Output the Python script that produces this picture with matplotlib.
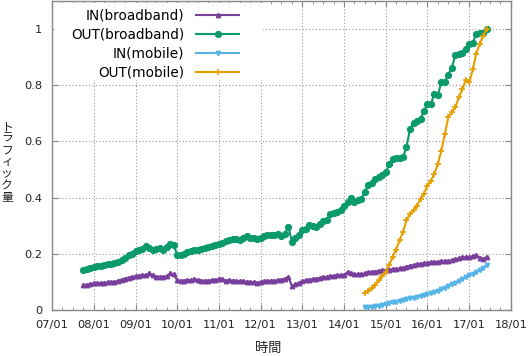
import numpy as np
import pandas as pd
import matplotlib
matplotlib.use('Agg')
import matplotlib.pyplot as plt
import matplotlib.dates as mdates
from matplotlib.patches import Rectangle
from matplotlib.ticker import FormatStrFormatter, MultipleLocator

plt.rcParams['font.family'] = ['DejaVu Sans', 'Noto Sans CJK JP']
JP = ['Noto Sans CJK JP', 'DejaVu Sans']

# 月次データ (最大値を1として正規化)
bb_start = '2007-10-01'
mb_start = '2014-07-01'

in_broadband = [
    0.089, 0.090, 0.092,
    0.095, 0.095, 0.096, 0.097, 0.098, 0.099, 0.100, 0.104, 0.108, 0.112, 0.115, 0.118,
    0.120, 0.122, 0.124, 0.125, 0.130, 0.124, 0.118, 0.119, 0.118, 0.120, 0.130, 0.127,
    0.106, 0.104, 0.105, 0.106, 0.107, 0.109, 0.107, 0.105, 0.104, 0.105, 0.106, 0.108,
    0.110, 0.112, 0.104, 0.106, 0.105, 0.104, 0.103, 0.102, 0.101, 0.100, 0.098, 0.097,
    0.100, 0.102, 0.104, 0.104, 0.105, 0.106, 0.108, 0.112, 0.118, 0.085, 0.092, 0.097,
    0.103, 0.106, 0.108, 0.110, 0.112, 0.114, 0.116, 0.118, 0.120, 0.122, 0.123, 0.124,
    0.124, 0.136, 0.130, 0.127, 0.127, 0.128, 0.130, 0.134, 0.136, 0.137, 0.140, 0.141,
    0.142, 0.144, 0.145, 0.146, 0.148, 0.150, 0.154, 0.158, 0.160, 0.162, 0.165, 0.166,
    0.168, 0.171, 0.171, 0.172, 0.173, 0.174, 0.175, 0.177, 0.180, 0.184, 0.187, 0.188,
    0.189, 0.192, 0.195, 0.186, 0.180, 0.189,
]

out_broadband = [
    0.142, 0.146, 0.150,
    0.154, 0.155, 0.158, 0.160, 0.162, 0.165, 0.168, 0.171, 0.177, 0.184, 0.195, 0.200,
    0.210, 0.212, 0.216, 0.228, 0.220, 0.213, 0.218, 0.221, 0.213, 0.225, 0.234, 0.232,
    0.195, 0.197, 0.200, 0.207, 0.210, 0.212, 0.215, 0.218, 0.222, 0.224, 0.228, 0.232,
    0.236, 0.240, 0.244, 0.250, 0.254, 0.252, 0.250, 0.255, 0.262, 0.258, 0.256, 0.254,
    0.256, 0.262, 0.266, 0.266, 0.268, 0.270, 0.264, 0.272, 0.296, 0.242, 0.255, 0.266,
    0.285, 0.290, 0.303, 0.298, 0.296, 0.305, 0.316, 0.322, 0.343, 0.346, 0.350, 0.355,
    0.372, 0.385, 0.400, 0.385, 0.390, 0.396, 0.420, 0.445, 0.452, 0.466, 0.475, 0.480,
    0.490, 0.520, 0.537, 0.540, 0.542, 0.544, 0.580, 0.645, 0.665, 0.672, 0.680, 0.709,
    0.733, 0.735, 0.770, 0.766, 0.810, 0.812, 0.837, 0.863, 0.907, 0.910, 0.915, 0.928,
    0.946, 0.952, 0.983, 0.987, 0.987, 1.000,
]

in_mobile = [
    0.010, 0.011, 0.012, 0.014, 0.015, 0.017,
    0.020, 0.024, 0.027, 0.030, 0.033, 0.036, 0.038, 0.041, 0.044, 0.047, 0.050, 0.053,
    0.056, 0.059, 0.064, 0.069, 0.074, 0.079, 0.085, 0.091, 0.097, 0.104, 0.110, 0.117,
    0.124, 0.128, 0.136, 0.142, 0.150, 0.160,
]

out_mobile = [
    0.061, 0.068, 0.077, 0.090, 0.106, 0.120,
    0.136, 0.160, 0.189, 0.215, 0.248, 0.278, 0.319, 0.343, 0.355, 0.372, 0.395, 0.414,
    0.443, 0.461, 0.485, 0.520, 0.567, 0.626, 0.686, 0.705, 0.721, 0.757, 0.786, 0.818,
    0.810, 0.857, 0.910, 0.946, 0.975, 1.000,
]

labels = ['IN(broadband)', 'OUT(broadband)', 'IN(mobile)', 'OUT(mobile)']
colors = ['#7a3f9c', '#0a9a6c', '#56b4e9', '#e69f00']
markers = ['^', 'o', 'v', '+']
msizes = [3, 4, 3, 4.5]

t_bb = pd.date_range(bb_start, periods=len(out_broadband), freq='MS')
t_mb = pd.date_range(mb_start, periods=len(out_mobile), freq='MS')
series = [(t_bb, in_broadband), (t_bb, out_broadband), (t_mb, in_mobile), (t_mb, out_mobile)]

fig = plt.figure(figsize=(5.3, 3.56), dpi=100)
ax = fig.add_axes([52 / 530, 1 - 310 / 356, 459 / 530, 309 / 356])

for (t, v), lab, c, m, ms in zip(series, labels, colors, markers, msizes):
    ax.plot(t, v, color=c, lw=1.5, marker=m, ms=ms, mew=1.2, label=lab)

ax.set_xlim(pd.Timestamp('2007-01-01'), pd.Timestamp('2018-01-01'))
ax.set_ylim(0, 1.1)
ax.xaxis.set_major_locator(mdates.YearLocator())
ax.xaxis.set_minor_locator(mdates.MonthLocator(bymonth=[4, 7, 10]))
ax.xaxis.set_major_formatter(mdates.DateFormatter('%y/%m'))
ax.yaxis.set_major_locator(MultipleLocator(0.2))
ax.yaxis.set_major_formatter(FormatStrFormatter('%g'))

ax.tick_params(which='both', direction='in', top=True, right=True, color='#888888',
               labelsize=8.2, labelcolor='#222222')
ax.tick_params(which='major', length=4, pad=7)
ax.tick_params(which='minor', length=2.5)
for s in ax.spines.values():
    s.set_color('#888888')
    s.set_linewidth(1.0)

ax.grid(True, which='major', color='#999999', lw=0.8, ls=(0, (1, 2)))
ax.set_axisbelow(True)

# 凡例の背景 (グリッドを隠す)
ax.add_patch(Rectangle((0.004, 0.745), 0.455, 0.25, transform=ax.transAxes,
                       facecolor='white', edgecolor='none', zorder=1))

ax.set_xlabel('時間', fontsize=9.5, color='#222222', family=JP)
ax.xaxis.set_label_coords((268 - 52) / 459, -0.105)
fig.text(7 / 530, 1 - 162 / 356, '\n'.join('トラフィック量'), fontsize=8.5, family=JP,
         ha='center', va='center', linespacing=0.88, color='#222222')

ax.legend(loc='upper right', bbox_to_anchor=((246 - 52) / 459, 0.998), markerfirst=False,
          frameon=False, fontsize=9.8, handlelength=3.16, labelspacing=0.38,
          borderaxespad=0.1, handletextpad=0.88)

fig.savefig('out.png', dpi=100)
